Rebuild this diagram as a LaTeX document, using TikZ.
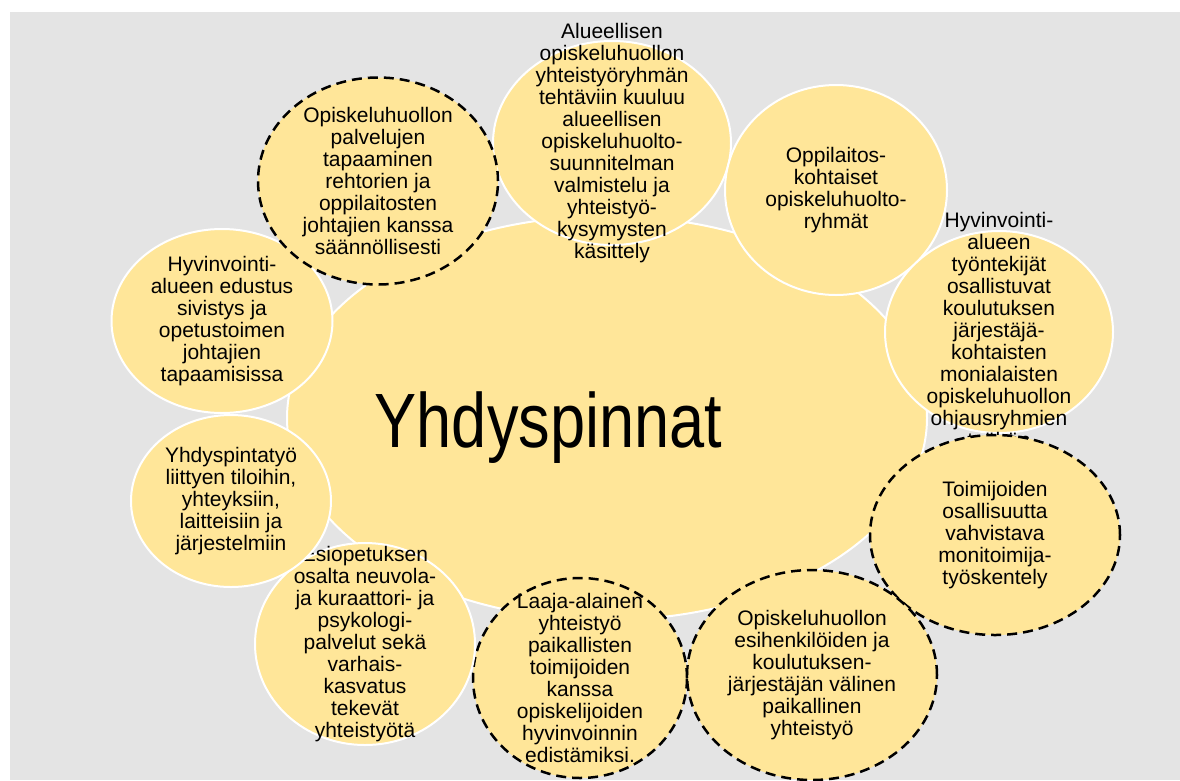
\documentclass[tikz,border=0pt]{standalone}
\usepackage{fontspec}
\setmainfont{Liberation Sans}
\usetikzlibrary{shapes.geometric}
\definecolor{bg}{HTML}{E4E4E4}
\definecolor{bubblefill}{HTML}{FFE699}
\tikzset{
  bubble/.style={ellipse, fill=bubblefill, draw=white, line width=2pt, inner sep=0pt},
  dbubble/.style={ellipse, fill=bubblefill, draw=black, line width=2.5pt, dash pattern=on 10pt off 6pt, inner sep=0pt},
  btxt/.style={align=center, inner sep=0pt, font=\fontsize{21}{22}\selectfont},
}
\begin{document}
\begin{tikzpicture}[x=1pt,y=-1pt]
\useasboundingbox (0,0) rectangle (1180,780);
\fill[bg] (10,12) rectangle (1180,780);
% central ellipse
\node[bubble, minimum width=640pt, minimum height=404pt] (center) at (607,418) {};
\node[anchor=base] (title) at (548.5,447) {\scalebox{0.82}[1]{\fontsize{77}{80}\selectfont Yhdyspinnat}};
% c1
\node[bubble, minimum width=238pt, minimum height=204pt] (c1) at (612,143) {};
\node[btxt] (t1) at (c1.center) {Alueellisen\\opiskeluhuollon\\yhteistyöryhmän\\tehtäviin kuuluu\\alueellisen\\opiskeluhuolto-\\suunnitelman\\valmistelu ja\\yhteistyö-\\kysymysten\\käsittely};
% c2
\node[bubble, minimum width=222pt, minimum height=210pt] (c2) at (836,190) {};
\node[btxt] (t2) at (c2.center) {Oppilaitos-\\kohtaiset\\opiskeluhuolto-\\ryhmät};
% c3
\node[bubble, minimum width=228pt, minimum height=202pt] (c3) at (999,332) {};
\node[btxt] (t3) at (c3.center) {Hyvinvointi-\\alueen\\työntekijät\\osallistuvat\\koulutuksen\\järjestäjä-\\kohtaisten\\monialaisten\\opiskeluhuollon\\ohjausryhmien\\työhön};
% c4
\node[dbubble, minimum width=250pt, minimum height=200pt] (c4) at (995,535) {};
\node[btxt] (t4) at (c4.center) {Toimijoiden\\osallisuutta\\vahvistava\\monitoimija-\\työskentely};
% c5
\node[dbubble, minimum width=250pt, minimum height=210pt] (c5) at (812,675) {};
\node[btxt] (t5) at (c5.center) {Opiskeluhuollon\\esihenkilöiden ja\\koulutuksen-\\järjestäjän välinen\\paikallinen\\yhteistyö};
% c6
\node[dbubble, minimum width=214pt, minimum height=200pt] (c6) at (580,678) {};
\node[btxt] (t6) at (c6.center) {Laaja-alainen\\yhteistyö\\paikallisten\\toimijoiden\\kanssa\\opiskelijoiden\\hyvinvoinnin\\edistämiksi.};
% c7
\node[bubble, minimum width=220pt, minimum height=202pt] (c7) at (365,644) {};
\node[btxt] (t7) at (c7.center) {Esiopetuksen\\osalta neuvola-\\ja kuraattori- ja\\psykologi-\\palvelut sekä\\varhais-\\kasvatus\\tekevät\\yhteistyötä};
% c8
\node[bubble, minimum width=200pt, minimum height=172pt] (c8) at (231,501) {};
\node[btxt] (t8) at (c8.center) {Yhdyspintatyö\\liittyen tiloihin,\\yhteyksiin,\\laitteisiin ja\\järjestelmiin};
% c9
\node[bubble, minimum width=221pt, minimum height=184pt] (c9) at (222,321) {};
\node[btxt] (t9) at (c9.center) {Hyvinvointi-\\alueen edustus\\sivistys ja\\opetustoimen\\johtajien\\tapaamisissa};
% c10
\node[dbubble, minimum width=240pt, minimum height=207pt] (c10) at (378,181) {};
\node[btxt] (t10) at (c10.center) {Opiskeluhuollon\\palvelujen\\tapaaminen\\rehtorien ja\\oppilaitosten\\johtajien kanssa\\säännöllisesti};
\end{tikzpicture}
\end{document}
